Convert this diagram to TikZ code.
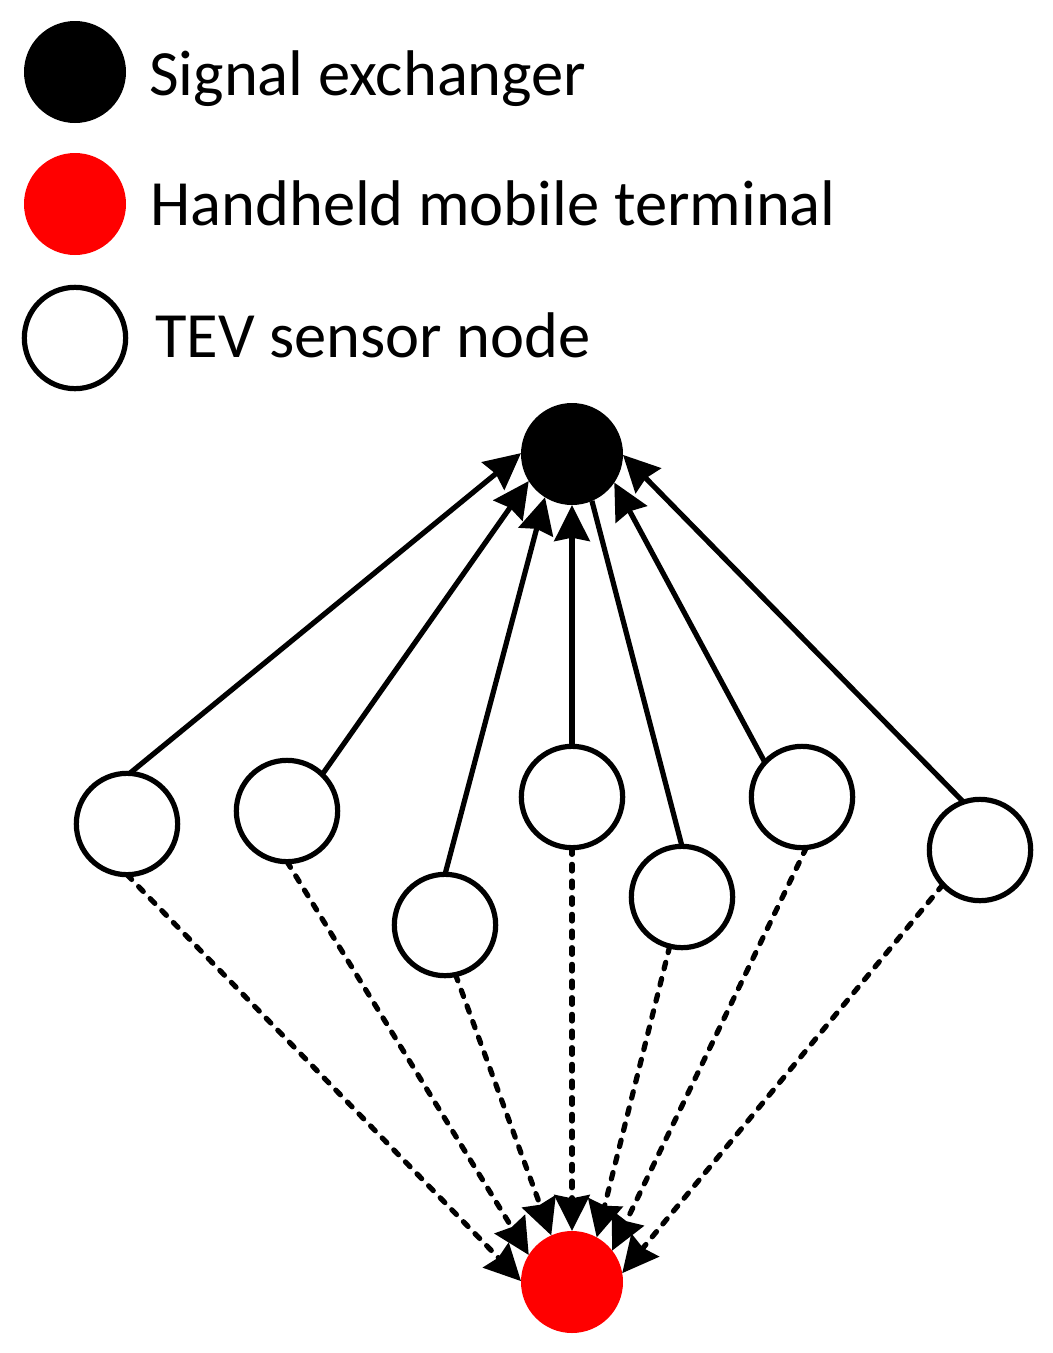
\documentclass[tikz,border=0pt]{standalone}
\usepackage{fontspec}
\setmainfont{Carlito}
\usetikzlibrary{arrows.meta}
\tikzset{
  blk/.style={circle,fill=black,draw=none,minimum size=76.5pt,inner sep=0pt,outer sep=0pt},
  redn/.style={circle,fill=red,draw=none,minimum size=76.5pt,inner sep=0pt,outer sep=0pt},
  whn/.style={circle,fill=white,draw=black,line width=3.9pt,minimum size=76pt,inner sep=0pt,outer sep=0pt},
  lbl/.style={anchor=base west,inner sep=0pt,font=\fontsize{48.4pt}{50pt}\selectfont},
  solidar/.style={line width=3.9pt,-{Stealth[length=27pt,width=26.5pt,inset=2.5pt]}},
  plainln/.style={line width=3.9pt},
  dashar/.style={line width=3.9pt,line cap=round,dash pattern=on 5pt off 7.5pt,-{Stealth[length=27pt,width=26.5pt,inset=2.5pt]}}
}
\begin{document}
\begin{tikzpicture}[x=0.75pt,y=-0.75pt]
\useasboundingbox (0,0) rectangle (1053,1353);
% legend
\node[blk] (lk) at (75,72) {};
\node[redn] (lr) at (75,204) {};
\node[whn] (lw) at (75,338) {};
\node[lbl] (t1) at (149,95) {Signal exchanger};
\node[lbl] (t2) at (150,225) {Handheld mobile terminal};
\node[lbl] (t3) at (155,357) {TEV sensor node};
% main
\node[blk] (top) at (572,454) {};
\node[redn] (bot) at (572,1282) {};
\node[whn] (a) at (127,824) {};
\node[whn] (b) at (287,811) {};
\node[whn] (c) at (445,925) {};
\node[whn] (d) at (572,797) {};
\node[whn] (e) at (682,897) {};
\node[whn] (f) at (802,797) {};
\node[whn] (g) at (980,850) {};
% upper
\draw[solidar] (a.87) -- (top.179);
\draw[solidar] (b.46) -- (top.212);
\draw[solidar] (c.90) -- (top.238);
\draw[solidar] (d.90) -- (top.270);
\draw[plainln] (e.90) -- (top.293);
\draw[solidar] (f.137) -- (top.326);
\draw[solidar] (g.109) -- (top.359);
% lower
\draw[dashar] (a.270) -- (bot.179);
\draw[dashar] (b.270) -- (bot.148);
\draw[dashar] (c.282) -- (bot.114);
\draw[dashar] (d.270) -- (bot.90);
\draw[dashar] (e.256) -- (bot.61);
\draw[dashar] (f.275) -- (bot.38);
\draw[dashar] (g.223) -- (bot.10);
\end{tikzpicture}
\end{document}
